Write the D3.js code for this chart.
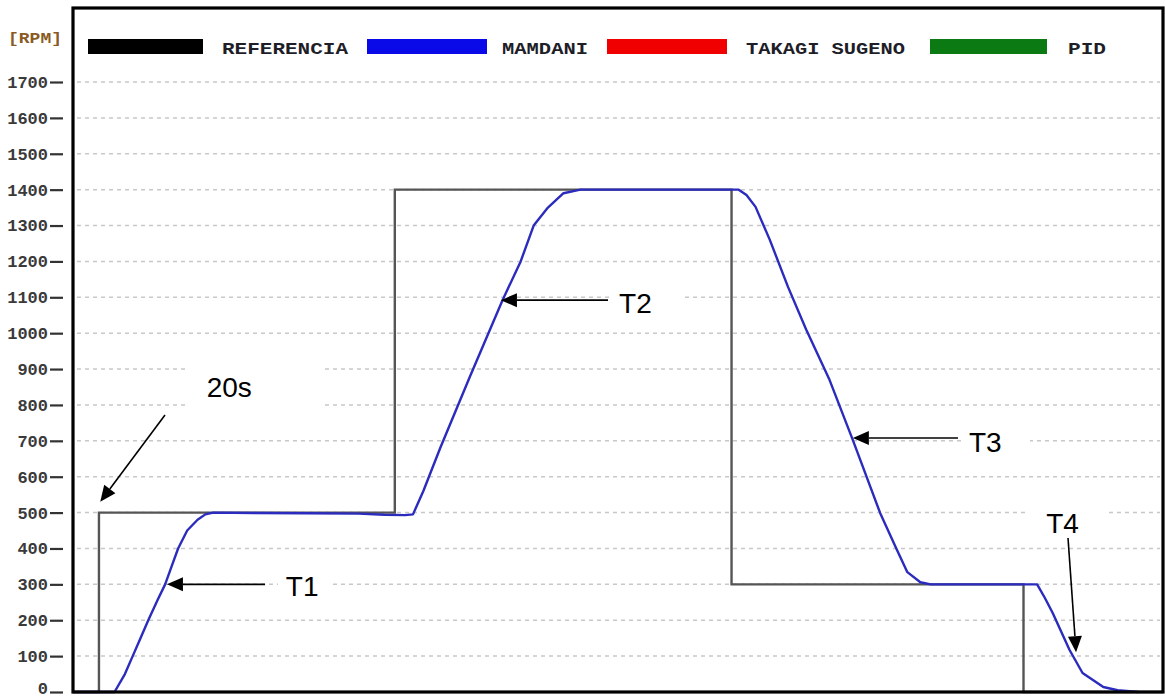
<!DOCTYPE html>
<html>
<head>
<meta charset="utf-8">
<script src="https://cdn.jsdelivr.net/npm/d3@7"></script>
<style>
  html, body { margin: 0; padding: 0; background: #fff; }
  svg { display: block; }
</style>
</head>
<body>
<svg id="chart" width="1165" height="698"></svg>
<script>
// Speed response of the motor: reference steps and the Mamdani fuzzy controller output
const rpmTicks = [0, 100, 200, 300, 400, 500, 600, 700, 800, 900, 1000, 1100, 1200, 1300, 1400, 1500, 1600, 1700];

// Reference (setpoint) profile, time in seconds
const refTime = [0, 20, 20, 248, 248, 507.5, 507.5, 732.5, 732.5, 840];
const refRpm  = [0, 0, 500, 500, 1400, 1400, 300, 300, 0, 0];

// Mamdani controller response
const mamTime = [0, 32, 40, 46, 52, 58, 65, 71, 76, 81, 88, 96, 102, 108, 140, 180, 220, 240, 256, 262,
                 270, 283, 306, 331, 345, 355, 366, 378, 391, 450, 513, 519, 526, 537, 551, 565, 583, 601,
                 622, 635, 643, 653, 661, 700, 743, 749, 755, 768, 778, 794, 805, 821];
const mamRpm  = [0, 0, 50, 100, 150, 200, 255, 300, 350, 400, 450, 480, 495, 500, 499, 498, 497, 494, 493, 495,
                 560, 680, 880, 1092, 1200, 1300, 1350, 1390, 1400, 1400, 1400, 1385, 1352, 1260, 1129, 1010, 870, 702,
                 499, 396, 334, 306, 300, 300, 300, 262, 220, 117, 53, 14, 5, 0];

// Legend entries
const legendNames  = ["REFERENCIA", "MAMDANI", "TAKAGI SUGENO", "PID"];
const legendColors = ["#000000", "#0a0ae8", "#f00000", "#0b7a12"];

// Annotations: label, label position, arrow tail and tip (time, rpm)
const noteLabels = ["20s", "T1", "T2", "T3", "T4"];
const noteTextT  = [103, 164, 420.8, 690.5, 750];
const noteTextR  = [822, 268, 1056, 669, 443];
const noteFromT  = [70.9, 148, 412.3, 682, 766.8];
const noteFromR  = [772, 300, 1092, 708, 429];
const noteToT    = [21, 72.4, 329.8, 601, 773];
const noteToR    = [530, 300, 1092, 708, 111];

const svg = d3.select("#chart");
const plotL = 73, plotR = 1163, plotT = 8, plotB = 692;

const x = d3.scaleLinear().domain([0, 840]).range([plotL, plotR]);
const y = d3.scaleLinear().domain([0, 1700]).range([plotB, plotB - 1700 * 0.35882]);

// Grid lines
svg.append("g").selectAll("line")
  .data(rpmTicks.filter(d => d > 0))
  .join("line")
  .attr("x1", plotL + 4).attr("x2", plotR - 3)
  .attr("y1", d => y(d)).attr("y2", d => y(d))
  .attr("stroke", "#c8c8c8").attr("stroke-width", 1.5)
  .attr("stroke-dasharray", "4,4");

// White patches behind the annotation text
const boxes = [[185, 358, 137, 52], [278, 570, 52, 32], [612, 285, 71, 32], [962, 424, 68, 32], [1026, 500, 80, 40]];
svg.append("g").selectAll("rect").data(boxes).join("rect")
  .attr("x", d => d[0]).attr("y", d => d[1]).attr("width", d => d[2]).attr("height", d => d[3])
  .attr("fill", "#fff");

// Y axis labels with tick dashes
const yAxis = d3.axisLeft(y).tickValues(rpmTicks).tickSize(13).tickPadding(2).tickFormat(d3.format("d"));
const ga = svg.append("g").attr("transform", "translate(63,0)").call(yAxis);
ga.select(".domain").remove();
ga.selectAll(".tick line").attr("stroke", "#333").attr("stroke-width", 2.2);
ga.selectAll(".tick text")
  .attr("fill", "#3a3a3a")
  .attr("dy", d => d === 0 ? "0.1em" : "0.32em")
  .style("font-family", "'Liberation Mono', 'DejaVu Sans Mono', monospace")
  .style("font-size", "17px").style("font-weight", "bold");

svg.append("text").attr("x", 8).attr("y", 43)
  .attr("fill", "#8a5a22")
  .style("font-family", "'Liberation Mono', monospace")
  .style("font-size", "15px").style("font-weight", "bold")
  .attr("textLength", 54).attr("lengthAdjust", "spacingAndGlyphs")
  .text("[RPM]");

// Legend
const legRectX = [88, 367, 607, 930];
const legRectW = [115, 120, 120, 117];
const legTextX = [222, 502, 746, 1068];
const legTextW = [126, 86, 159, 38];
const leg = svg.append("g");
legendNames.forEach((name, i) => {
  leg.append("rect").attr("x", legRectX[i]).attr("y", 39).attr("width", legRectW[i]).attr("height", 15)
    .attr("fill", legendColors[i]);
  leg.append("text").attr("x", legTextX[i]).attr("y", 54)
    .attr("fill", "#1e1e28")
    .style("font-family", "'Liberation Mono', monospace")
    .style("font-size", "17px").style("font-weight", "bold")
    .attr("textLength", legTextW[i]).attr("lengthAdjust", "spacingAndGlyphs")
    .text(name);
});

const line = d3.line().x(d => x(d[0])).y(d => y(d[1]));

// Reference profile
svg.append("path")
  .datum(refTime.map((t, i) => [t, refRpm[i]]))
  .attr("d", line)
  .attr("fill", "none").attr("stroke", "#555").attr("stroke-width", 2.4);

// Mamdani response
svg.append("path")
  .datum(mamTime.map((t, i) => [t, mamRpm[i]]))
  .attr("d", line)
  .attr("fill", "none").attr("stroke", "#2b2bbd").attr("stroke-width", 2.4)
  .attr("stroke-linejoin", "round");

// Plot frame
svg.append("rect").attr("x", plotL).attr("y", plotT).attr("width", plotR - plotL).attr("height", plotB - plotT)
  .attr("fill", "none").attr("stroke", "#000").attr("stroke-width", 3.2);

// Annotations with arrows
const notes = svg.append("g");
noteLabels.forEach((lab, i) => {
  const x1 = x(noteFromT[i]), y1 = y(noteFromR[i]);
  const x2 = x(noteToT[i]), y2 = y(noteToR[i]);
  const dx = x2 - x1, dy = y2 - y1, len = Math.hypot(dx, dy);
  const ux = dx / len, uy = dy / len;
  const hl = 16, hw = 7;
  const bx = x2 - ux * hl, by = y2 - uy * hl;
  notes.append("line").attr("x1", x1).attr("y1", y1).attr("x2", bx).attr("y2", by)
    .attr("stroke", "#000").attr("stroke-width", 1.6);
  notes.append("polygon")
    .attr("points", [[x2, y2], [bx - uy * hw, by + ux * hw], [bx + uy * hw, by - ux * hw]].map(p => p.join(",")).join(" "))
    .attr("fill", "#000");
  notes.append("text").attr("x", x(noteTextT[i])).attr("y", y(noteTextR[i]))
    .attr("fill", "#000")
    .style("font-family", "'Liberation Sans', Arial, sans-serif")
    .style("font-size", "28px")
    .text(lab);
});
</script>
</body>
</html>
